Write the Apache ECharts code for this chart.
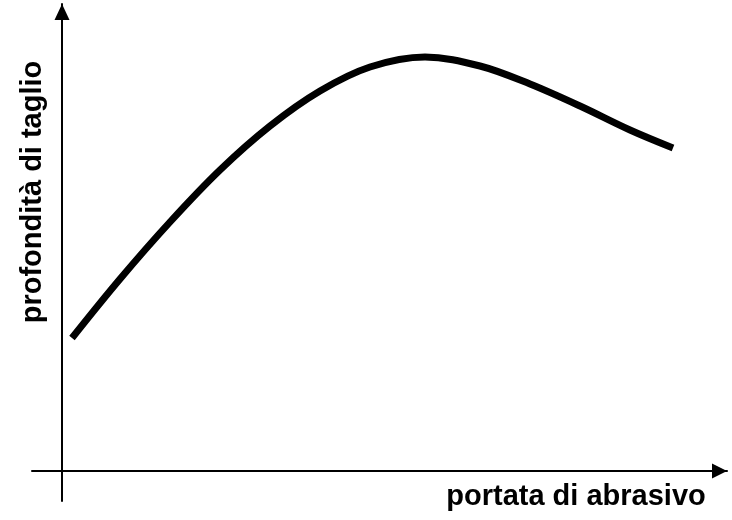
<!DOCTYPE html>
<html>
<head>
<meta charset="utf-8">
<script src="https://cdn.jsdelivr.net/npm/echarts@6/dist/echarts.min.js"></script>
<style>
  html, body { margin: 0; padding: 0; background: #ffffff; }
  #chart { width: 732px; height: 520px; }
</style>
</head>
<body>
<div id="chart"></div>
<script>
// Flow rate of abrasive (x) vs. cutting depth (y), arbitrary units
const flowRate = [10, 58, 108, 158, 208, 258, 308, 363, 418, 468, 518, 568, 611];
const cutDepth = [133, 192, 249, 301, 345, 380, 404, 414, 405, 387, 365, 341, 323];

const xLabel = 'portata di abrasivo';
const yLabel = 'profondità di taglio';

const points = flowRate.map((x, i) => [x, cutDepth[i]]);

const chart = echarts.init(document.getElementById('chart'), null, { renderer: 'canvas' });

const axisCommon = {
  type: 'value',
  axisTick: { show: false },
  axisLabel: { show: false },
  splitLine: { show: false },
  axisLine: {
    show: true,
    onZero: true,
    symbol: ['none', 'triangle'],
    lineStyle: { color: '#000', width: 2 }
  }
};

const labelFont = 'bold 29px "Liberation Sans", Arial, sans-serif';

chart.setOption({
  animation: false,
  backgroundColor: '#ffffff',
  grid: { left: 32, right: 5, top: 4, bottom: 19 },
  xAxis: Object.assign({}, axisCommon, {
    min: -30, max: 665,
    axisLine: Object.assign({}, axisCommon.axisLine, { symbolSize: [15, 15], symbolOffset: [0, -7.5] })
  }),
  yAxis: Object.assign({}, axisCommon, {
    min: -30, max: 467,
    axisLine: Object.assign({}, axisCommon.axisLine, { symbolSize: [15, 16], symbolOffset: [0, -8] })
  }),
  series: [{
    type: 'line',
    data: points,
    smooth: 0.35,
    showSymbol: false,
    symbol: 'none',
    lineStyle: { color: '#000', width: 7, cap: 'butt' }
  }],
  graphic: [
    {
      type: 'text',
      x: 576, y: 497,
      style: {
        text: xLabel,
        font: labelFont,
        fill: '#000',
        align: 'center',
        verticalAlign: 'middle'
      }
    },
    {
      type: 'text',
      x: 33, y: 192,
      rotation: Math.PI / 2,
      style: {
        text: yLabel,
        font: labelFont,
        fill: '#000',
        align: 'center',
        verticalAlign: 'middle'
      }
    }
  ]
});
</script>
</body>
</html>
